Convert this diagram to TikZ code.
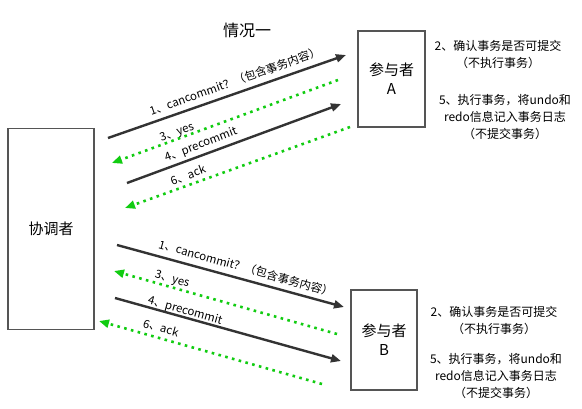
\documentclass[tikz,border=0pt]{standalone}
\usepackage{fontspec}
\setmainfont{Noto Sans CJK SC}
\usetikzlibrary{arrows.meta}
\definecolor{arrowdark}{HTML}{333333}
\definecolor{dotgreen}{HTML}{11CC11}
\definecolor{boxgray}{HTML}{555555}
\begin{document}
\begin{tikzpicture}[x=1pt,y=-1pt,
  box/.style={draw=boxgray,line width=1.5pt,fill=white,align=center,inner sep=0pt,font=\fontsize{15}{19}\selectfont},
  msg/.style={draw=arrowdark,line width=2.4pt,-{Triangle[length=10pt,width=8pt]}},
  reply/.style={draw=dotgreen,line width=2.6pt,dash pattern=on 2.6pt off 4.4pt,-{Triangle[length=10pt,width=8pt,fill=dotgreen]}},
  lbl/.style={inner sep=0pt,font=\fontsize{11.4}{13}\selectfont},
  note/.style={inner sep=0pt,align=center,font=\fontsize{12}{17}\selectfont}]
\useasboundingbox (0,0) rectangle (582,408);
\fill[white] (0,0) rectangle (582,408);
% boxes
\node[box,minimum width=86pt,minimum height=201pt] (C) at (51,229) {协调者};
\node[box,minimum width=67pt,minimum height=96pt] (A) at (391.5,79) {参与者\\A};
\node[box,minimum width=66pt,minimum height=100pt] (B) at (384,340) {参与者\\B};
\node[inner sep=0pt,font=\fontsize{16}{18}\selectfont] (T) at (247,30) {情况一};
% coordinates for top set
\coordinate (t1s) at (108,138); \coordinate (t1e) at (346,55);
\coordinate (t3s) at (338,80);  \coordinate (t3e) at (112,163);
\coordinate (t4s) at (127,183); \coordinate (t4e) at (341,104);
\coordinate (t6s) at (350,127); \coordinate (t6e) at (125,208);
\draw[msg] (t1s) -- (t1e);
\draw[reply] (t3s) -- (t3e);
\draw[msg] (t4s) -- (t4e);
\draw[reply] (t6s) -- (t6e);
\node[lbl,rotate=19.5] (l1) at (235,81) {1、cancommit？（包含事务内容）};
\node[lbl,rotate=19.5] (l3) at (177,133) {3、yes};
\node[lbl,rotate=21] (l4) at (201,145) {4、precommit};
\node[lbl,rotate=20] (l6) at (188,175) {6、ack};
% bottom set
\coordinate (b1s) at (117,245); \coordinate (b1e) at (344,307);
\coordinate (b3s) at (337,334); \coordinate (b3e) at (114,271);
\coordinate (b4s) at (115,298); \coordinate (b4e) at (341,361);
\coordinate (b6s) at (322,384); \coordinate (b6e) at (99,321);
\draw[msg] (b1s) -- (b1e);
\draw[reply] (b3s) -- (b3e);
\draw[msg] (b4s) -- (b4e);
\draw[reply] (b6s) -- (b6e);
\node[lbl,rotate=-15.5] (m1) at (246,268) {1、cancommit？（包含事务内容）};
\node[lbl,rotate=-15.5] (m3) at (172,280) {3、yes};
\node[lbl,rotate=-15.5] (m4) at (185,311) {4、precommit};
\node[lbl,rotate=-15.5] (m6) at (161,328) {6、ack};
% notes
\node[note] (na2) at (498,54) {2、确认事务是否可提交\\（不执行事务）};
\node[note] (na5) at (505,117) {5、执行事务，将undo和\\redo信息记入事务日志\\（不提交事务）};
\node[note] (nb2) at (494,320) {2、确认事务是否可提交\\（不执行事务）};
\node[note] (nb5) at (496,376) {5、执行事务，将undo和\\redo信息记入事务日志\\（不提交事务）};
\end{tikzpicture}
\end{document}
